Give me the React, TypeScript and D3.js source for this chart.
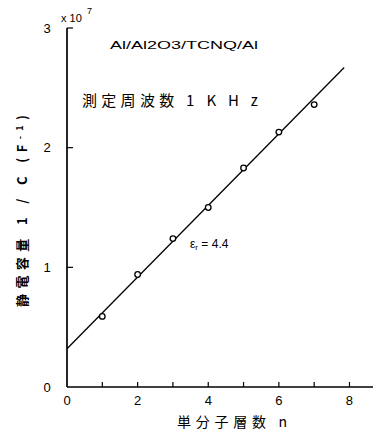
import * as d3 from 'd3';
import React from 'react';

// measured points: number of monolayers n vs 1/C (x10^7 F^-1)
const layers = [1, 2, 3, 4, 5, 6, 7];
const invCap = [0.59, 0.94, 1.24, 1.5, 1.83, 2.13, 2.36];

// fitted straight line end points
const fitN = [0, 7.85];
const fitV = [0.32, 2.67];

const xTicks = [0, 1, 2, 3, 4, 5, 6, 7, 8];
const xTickLabels = ['0', '2', '4', '6', '8'];
const yTicks = [1, 2, 3];
const yTickLabels = ['0', '1', '2', '3'];

const W = 373;
const H = 436;
const JP = '"Noto Sans CJK JP", "Noto Sans", sans-serif';
const LAT = '"Liberation Sans", "DejaVu Sans", sans-serif';

export default function App() {
  const x = d3.scaleLinear().domain([0, 8.68]).range([67, 373.5]);
  const y = d3.scaleLinear().domain([0, 3]).range([387, 28]);

  const line = d3.line<number>()
    .x((d) => x(d))
    .y((_, i) => y(fitV[i]));

  return (
    <svg width={W} height={H} style={{ position: 'absolute', left: 0, top: 0, background: '#fff' }}>
      {/* axes */}
      <g stroke="#000" strokeWidth={1.7} fill="none">
        <line x1={x(0)} y1={y(0)} x2={x.range()[1]} y2={y(0)} />
        <line x1={x(0)} y1={y(0)} x2={x(0)} y2={y(3)} />
        {xTicks.slice(1).map((t) => (
          <line key={'xt' + t} x1={x(t)} x2={x(t)} y1={y(0)} y2={y(0) - 5} strokeWidth={1.2} />
        ))}
        {yTicks.map((t) => (
          <line key={'yt' + t} x1={x(0)} x2={x(0) + 6} y1={y(t)} y2={y(t)} strokeWidth={1.2} />
        ))}
      </g>

      {/* tick labels */}
      <g fontFamily={LAT} fontSize={13} fill="#000" textAnchor="middle">
        {xTickLabels.map((l) => (
          <text key={'xl' + l} x={x(+l)} y={405}>{l}</text>
        ))}
        {yTickLabels.map((l) => (
          <text key={'yl' + l} x={47} y={y(+l) + 4.5}>{l}</text>
        ))}
      </g>

      <text x={61} y={22} fontFamily={LAT} fontSize={11} fill="#000">x 10</text>
      <text x={87} y={14} fontFamily={LAT} fontSize={9} fill="#000">7</text>

      {/* fit line */}
      <path d={line(fitN) || ''} fill="none" stroke="#000" strokeWidth={1.3} />

      {/* data points */}
      <g fill="#fff" stroke="#000" strokeWidth={1.3}>
        {layers.map((n, i) => (
          <circle key={n} cx={x(n)} cy={y(invCap[i])} r={2.8} />
        ))}
      </g>

      {/* annotations */}
      <text x={110} y={49} fontFamily={LAT} fontSize={11} fill="#000" textLength={148} lengthAdjust="spacingAndGlyphs">
        Al/Al2O3/TCNQ/Al
      </text>
      <text x={82} y={106} fontFamily={JP} fontSize={15} fill="#000" textLength={176} lengthAdjust="spacing">
        測定周波数 1 K H z
      </text>
      <text x={190} y={248} fontFamily={LAT} fontSize={12} fill="#000">
        ε<tspan fontSize={8} dy={2}>r</tspan><tspan dy={-2}> = 4.4</tspan>
      </text>

      {/* axis titles */}
      <text x={177} y={427} fontFamily={JP} fontSize={14} fill="#000" textLength={110} lengthAdjust="spacing">
        単分子層数 n
      </text>
      <text transform="translate(27,307) rotate(-90)" x={0} y={0} fontFamily={JP} fontSize={13} fontWeight="bold" fill="#000"
        textLength={192} lengthAdjust="spacing">
        静電容量 1 / C (F<tspan fontSize={9} dy={-4}>-1</tspan><tspan dy={4}>)</tspan>
      </text>
    </svg>
  );
}
